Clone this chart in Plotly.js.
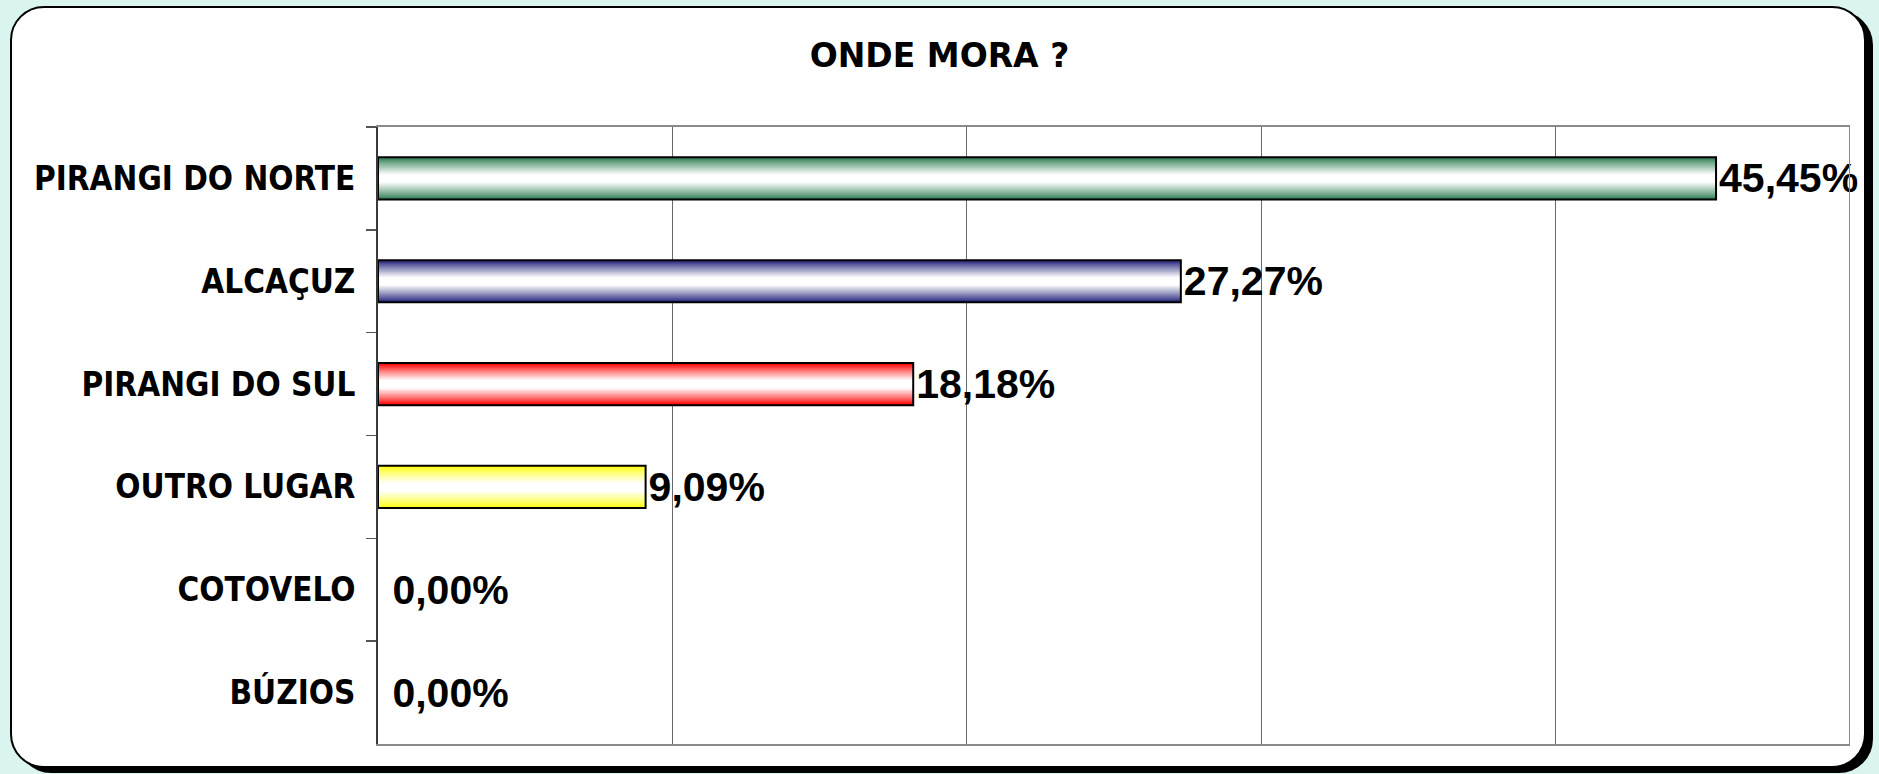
<!DOCTYPE html>
<html>
<head>
<meta charset="utf-8">
<script src="https://cdn.plot.ly/plotly-3.0.1.min.js"></script>
<style>
  html, body { margin: 0; padding: 0; width: 1879px; height: 774px; overflow: hidden; background: #daf4ef; }
  #frame { position: absolute; left: 10px; top: 6px; width: 1852px; height: 758px;
           background: #ffffff; border: 2px solid #000; border-radius: 34px;
           box-shadow: 7px 5px 0 0 #000; }
  #chart { position: absolute; left: 0; top: 0; width: 1879px; height: 774px; }
</style>
</head>
<body>
<div id="frame"></div>
<div id="chart"></div>
<script>
// ---- data ----
const chartTitle = "ONDE MORA ?";
const categories = ["PIRANGI DO NORTE", "ALCAÇUZ", "PIRANGI DO SUL", "OUTRO LUGAR", "COTOVELO", "BÚZIOS"];
const percentValues = [45.45, 27.27, 18.18, 9.09, 0.00, 0.00];
const barColors = ["#2e7d52", "#22227a", "#ff0000", "#ffff10"];
const zeroBarColor = "#ffffff";

// ---- helpers ----
const shares = percentValues.map(v => v / 100);
const labels = percentValues.map(v => (v === 0 ? '\u00A0' : '') + v.toFixed(2).replace('.', ',') + '%');
function hexToRgb(h) {
  h = h.replace('#', '');
  return [parseInt(h.slice(0, 2), 16), parseInt(h.slice(2, 4), 16), parseInt(h.slice(4, 6), 16)];
}
function mixWhite(hex, t) {
  const c = hexToRgb(hex);
  const m = c.map(v => Math.round(v + (255 - v) * t));
  return 'rgb(' + m.join(',') + ')';
}
const baseColors = categories.map((c, i) => barColors[i] || zeroBarColor);

const BAR_W = 0.41;
const LAYERS = 18;
const traces = [];
for (let i = 0; i < LAYERS; i++) {
  const f = i / LAYERS;
  const t = Math.min(1, Math.pow(f / 0.8, 0.9));
  traces.push({
    type: 'bar', orientation: 'h',
    x: shares, y: categories,
    width: BAR_W * (1 - f),
    marker: { color: baseColors.map(c => mixWhite(c, t)), line: { width: 0 } },
    hoverinfo: 'skip', showlegend: false
  });
}
// outline + labels
traces.push({
  type: 'bar', orientation: 'h',
  x: shares, y: categories,
  width: BAR_W,
  marker: { color: 'rgba(0,0,0,0)', line: { color: '#000000', width: shares.map(s => s > 0 ? 2 : 0) } },
  text: labels, textposition: 'outside', constraintext: 'none', cliponaxis: false,
  textfont: { family: 'Liberation Sans, Arial, sans-serif', size: 41, color: '#000', weight: 'bold' },
  hoverinfo: 'skip', showlegend: false
});

const layout = {
  width: 1879, height: 774,
  paper_bgcolor: 'rgba(0,0,0,0)', plot_bgcolor: 'rgba(0,0,0,0)',
  margin: { l: 378, r: 29, t: 127, b: 30, pad: 0 },
  barmode: 'overlay',
  showlegend: false,
  title: {
    text: chartTitle,
    font: { family: 'DejaVu Sans, sans-serif', size: 33, color: '#000', weight: 'bold' },
    xref: 'container', x: 0.5, xanchor: 'center',
    yref: 'container', y: 0.929, yanchor: 'middle'
  },
  xaxis: {
    range: [0, 0.5], dtick: 0.1, tick0: 0,
    showticklabels: false, ticks: '',
    showgrid: true, gridcolor: '#6a6a6a', gridwidth: 1,
    zeroline: false,
    showline: true, mirror: true, linecolor: '#8a8a8a', linewidth: 2,
    fixedrange: true
  },
  yaxis: {
    type: 'category', autorange: 'reversed',
    showgrid: false, zeroline: false,
    showline: true, linecolor: '#3a3a3a', linewidth: 2,
    ticks: 'outside', tickson: 'boundaries', ticklen: 10, tickcolor: '#555', tickwidth: 1.5,
    ticklabelstandoff: 14,
    tickfont: { family: 'DejaVu Sans Condensed, DejaVu Sans, sans-serif', size: 33, color: '#000', weight: 'bold' },
    automargin: false, fixedrange: true
  },
  shapes: [
    { type: 'line', xref: 'x', yref: 'paper', x0: 0.5, x1: 0.5, y0: 0, y1: 1,
      line: { color: '#8a8a8a', width: 2 }, layer: 'above' }
  ]
};

Plotly.newPlot('chart', traces, layout, { displayModeBar: false, staticPlot: true });
</script>
</body>
</html>
